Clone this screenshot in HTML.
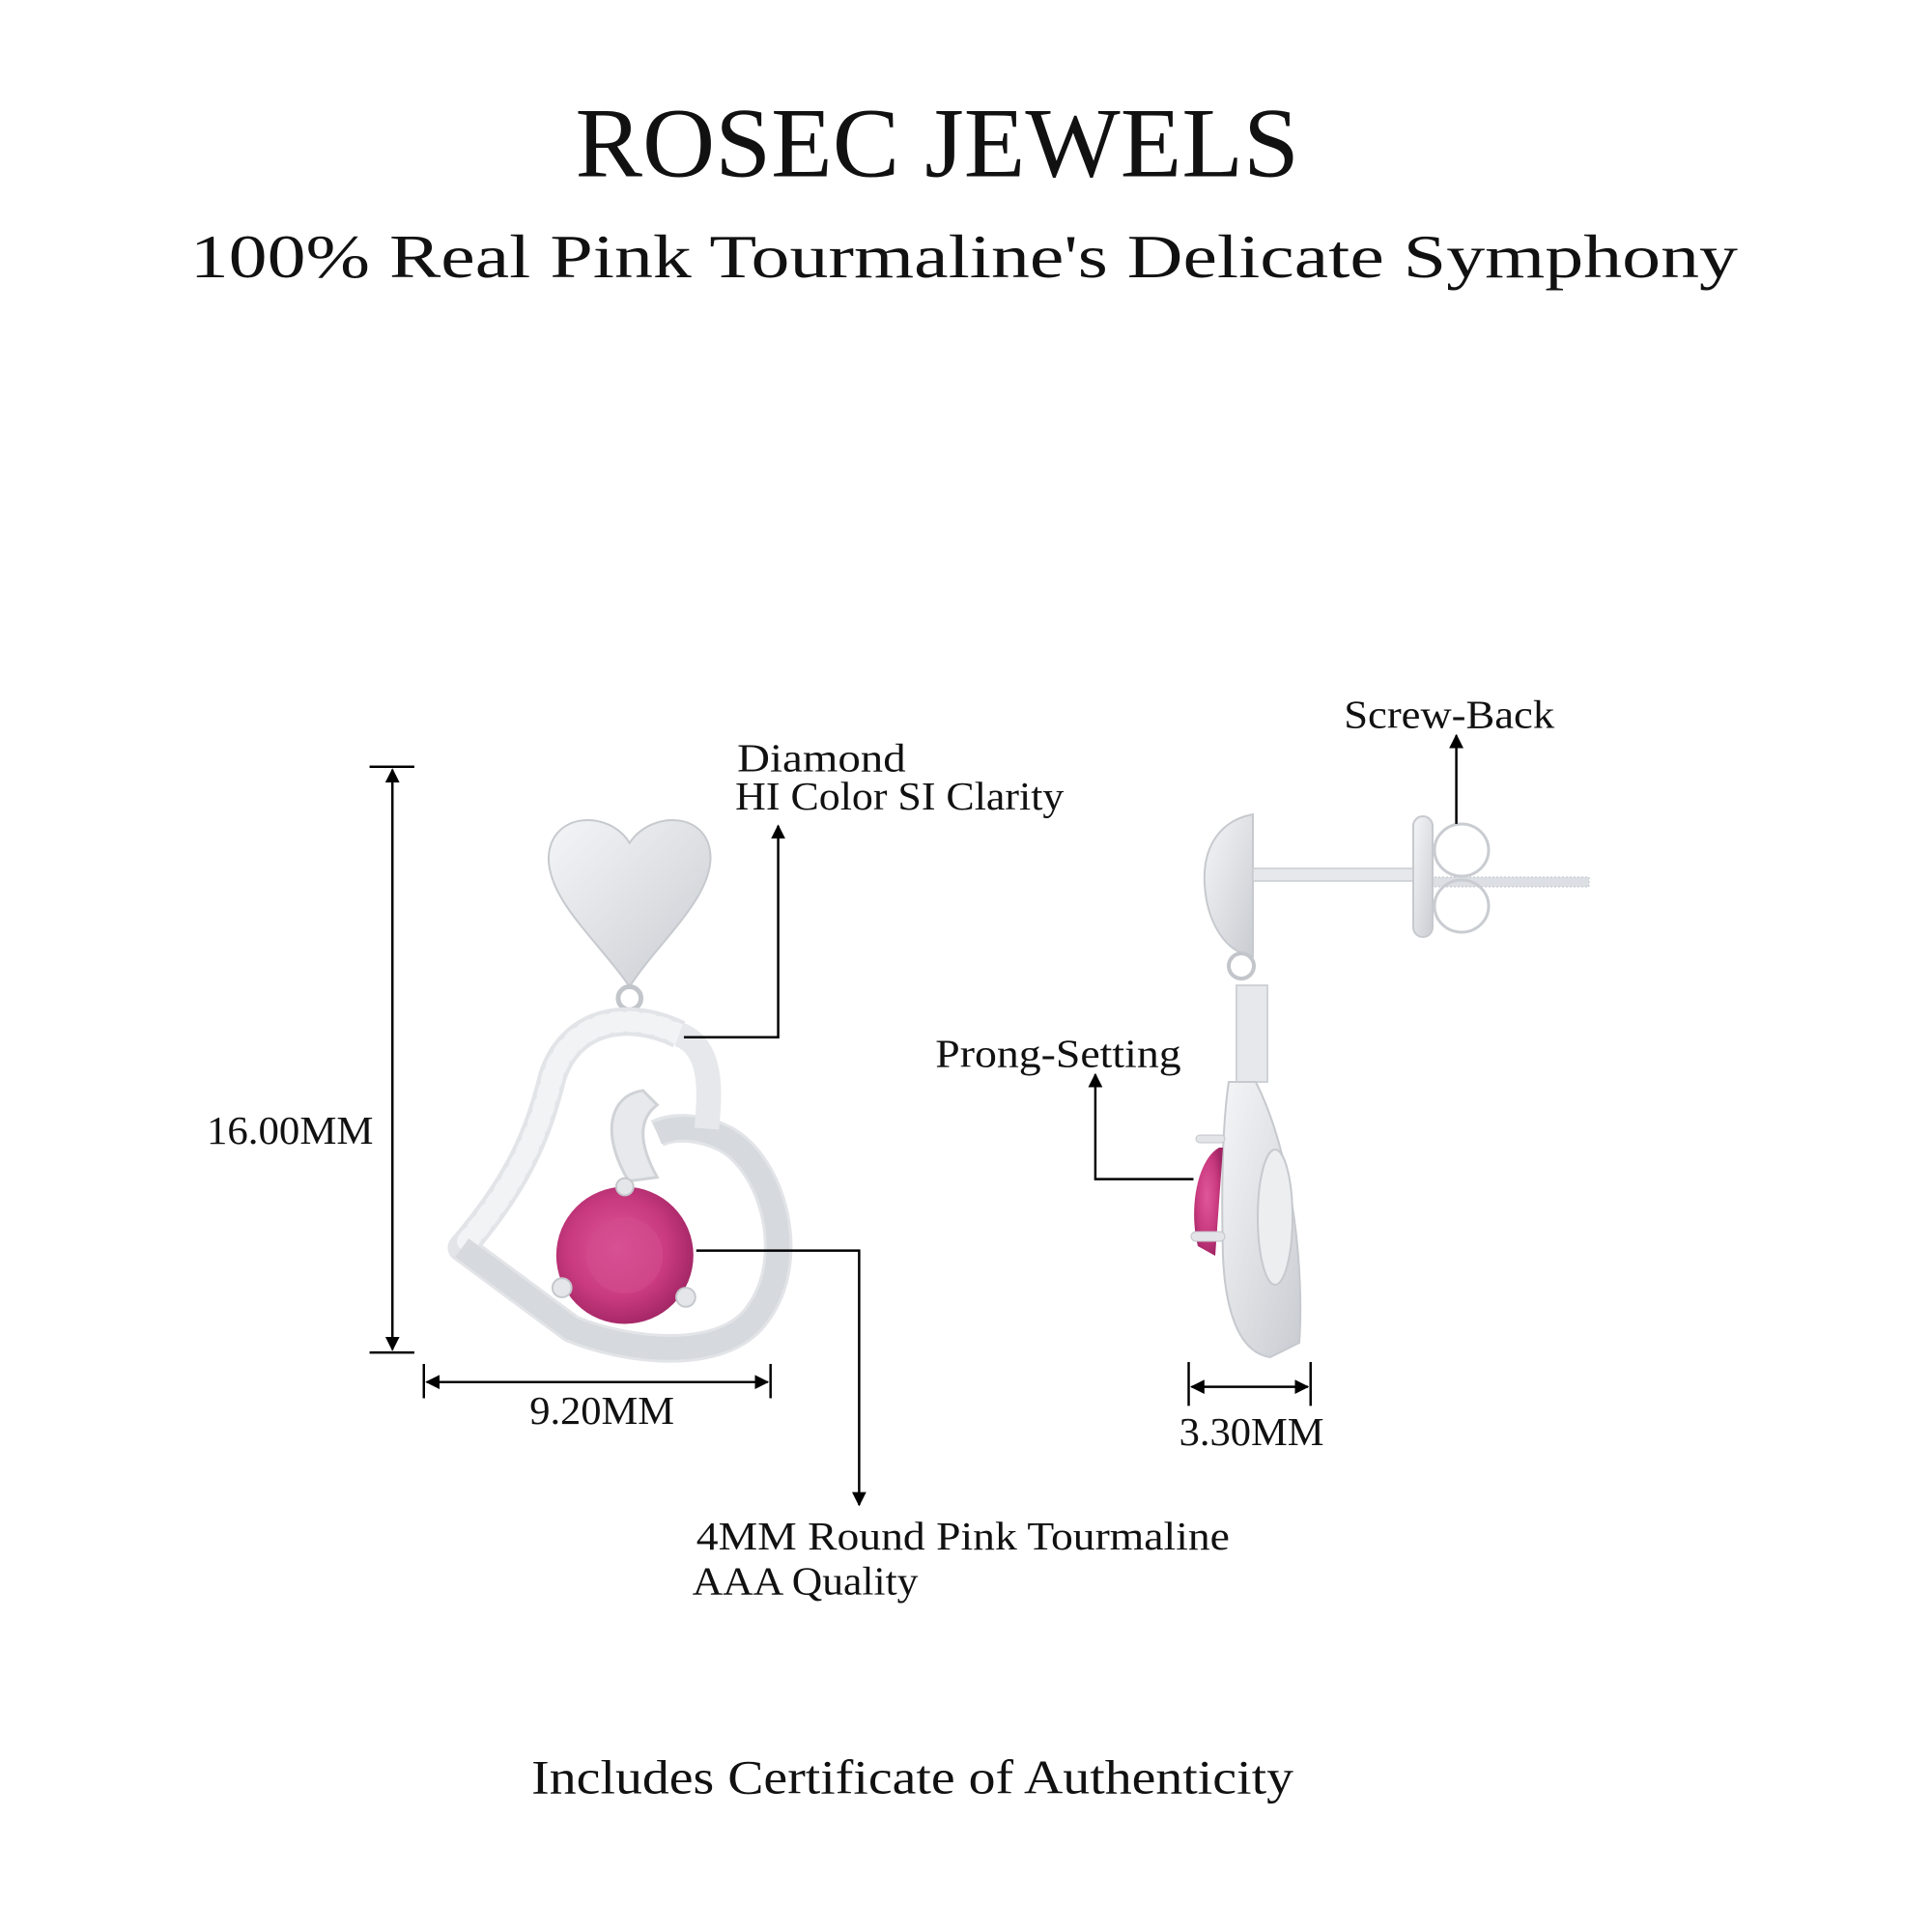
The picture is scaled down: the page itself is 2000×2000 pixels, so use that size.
<!DOCTYPE html>
<html><head><meta charset="utf-8"><style>
html,body{margin:0;padding:0;background:#fff}
svg{display:block}
text{font-family:"Liberation Serif",serif;fill:#111}
</style></head><body>
<svg width="2000" height="2000" viewBox="0 0 2000 2000" xmlns="http://www.w3.org/2000/svg">
<defs>
<marker id="ah" viewBox="0 0 10 10" refX="9" refY="5" markerWidth="6" markerHeight="6" orient="auto-start-reverse"><path d="M0,0 L10,5 L0,10 z" fill="#000"/></marker>
<linearGradient id="met" x1="0" x2="1" y1="0" y2="1"><stop offset="0" stop-color="#f4f5f7"/><stop offset="0.5" stop-color="#dfe1e5"/><stop offset="1" stop-color="#c9ccd1"/></linearGradient>
<radialGradient id="gem" cx="0.45" cy="0.45" r="0.6"><stop offset="0" stop-color="#e0579a"/><stop offset="0.6" stop-color="#c93a7f"/><stop offset="1" stop-color="#9e2462"/></radialGradient>
</defs>

<!-- side earring (true coords) -->
<path d="M1297,843 C1260,850 1245,880 1247,915 C1249,950 1265,985 1297,990 Z" fill="url(#met)" stroke="#c6c9ce" stroke-width="2"/>
<rect x="1297" y="899" width="168" height="13" fill="#e6e8eb" stroke="#c9ccd1" stroke-width="1.5"/>
<rect x="1465" y="908" width="180" height="10" fill="#dcdfe3" stroke="#bfc3c8" stroke-width="1" stroke-dasharray="2 2"/>
<rect x="1463" y="845" width="20" height="125" rx="10" fill="url(#met)" stroke="#c6c9ce" stroke-width="2"/>
<ellipse cx="1513" cy="880" rx="28" ry="27" fill="none" stroke="#c9ccd1" stroke-width="3"/>
<ellipse cx="1513" cy="938" rx="28" ry="27" fill="none" stroke="#c9ccd1" stroke-width="3"/>
<circle cx="1285" cy="1000" r="13" fill="none" stroke="#c2c5ca" stroke-width="4"/>
<path d="M1280,1020 L1312,1020 L1312,1120 L1280,1120 Z" fill="#e6e8eb" stroke="#cfd2d6" stroke-width="2"/>
<path d="M1272,1120 L1300,1120 C1340,1200 1350,1320 1345,1390 L1315,1405 C1280,1400 1268,1350 1266,1300 C1264,1220 1266,1160 1272,1120 Z" fill="url(#met)" stroke="#c6c9ce" stroke-width="2"/>
<ellipse cx="1320" cy="1260" rx="18" ry="70" fill="#eceef0" stroke="#c6c9ce" stroke-width="2"/>
<path d="M1262,1188 C1240,1200 1230,1250 1240,1290 L1258,1300 L1266,1188 Z" fill="url(#gem)"/>
<rect x="1238" y="1175" width="30" height="8" rx="4" fill="#e2e4e8" stroke="#c2c5ca"/>
<rect x="1233" y="1275" width="35" height="10" rx="5" fill="#e2e4e8" stroke="#c2c5ca"/>

<g transform="scale(0.986)">
<text x="984" y="185" text-anchor="middle" font-size="104" textLength="760" lengthAdjust="spacingAndGlyphs">ROSEC JEWELS</text>
<text x="1012" y="291" text-anchor="middle" font-size="64" textLength="1625" lengthAdjust="spacingAndGlyphs">100% Real Pink Tourmaline's Delicate Symphony</text>

<!-- left earring -->
<path d="M661,885 C640,850 578,852 576,900 C575,945 630,990 661,1036 C690,990 746,945 746,900 C745,852 684,850 661,885 Z" fill="url(#met)" stroke="#c6c9ce" stroke-width="2"/>
<circle cx="661" cy="1048" r="12" fill="none" stroke="#c2c5ca" stroke-width="5"/>
<path d="M713,1086 C660,1060 600,1070 580,1130 C565,1190 545,1240 485,1310 L600,1395 C660,1420 760,1430 795,1380 C840,1320 810,1220 760,1195 C740,1185 710,1180 690,1190" fill="none" stroke="#e2e4e8" stroke-width="30" stroke-linejoin="round"/>
<path d="M713,1086 C660,1060 600,1070 580,1130 C565,1190 545,1240 485,1310" fill="none" stroke="#f2f3f5" stroke-width="22" stroke-dasharray="6 10" stroke-linecap="round"/>
<path d="M485,1310 L600,1395 C660,1420 760,1430 795,1380 C840,1320 810,1220 760,1195 C740,1185 715,1180 690,1190" fill="none" stroke="#d6d9dd" stroke-width="24"/>
<path d="M713,1086 C750,1100 745,1150 742,1185" fill="none" stroke="#e6e8eb" stroke-width="26"/>
<path d="M675,1145 C640,1150 630,1190 660,1240 L690,1236 C670,1200 670,1175 690,1160 Z" fill="#e8e9ec" stroke="#cfd2d6" stroke-width="3"/>
<circle cx="656" cy="1318" r="72" fill="url(#gem)"/>
<circle cx="656" cy="1318" r="40" fill="#d24d8e" opacity="0.6"/>
<circle cx="656" cy="1246" r="9" fill="#e4e6e9" stroke="#c4c7cc" stroke-width="2"/>
<circle cx="590" cy="1352" r="10" fill="#e4e6e9" stroke="#c4c7cc" stroke-width="2"/>
<circle cx="720" cy="1362" r="10" fill="#e4e6e9" stroke="#c4c7cc" stroke-width="2"/>

<!-- dimension lines -->
<g stroke="#000" stroke-width="2.5" fill="none">
<line x1="388" y1="805" x2="435" y2="805"/>
<line x1="388" y1="1420" x2="435" y2="1420"/>
<line x1="412" y1="808" x2="412" y2="1417" marker-start="url(#ah)" marker-end="url(#ah)"/>
<line x1="445" y1="1432" x2="445" y2="1468"/>
<line x1="809" y1="1432" x2="809" y2="1468"/>
<line x1="448" y1="1451" x2="806" y2="1451" marker-start="url(#ah)" marker-end="url(#ah)"/>
<line x1="1248" y1="1430" x2="1248" y2="1476"/>
<line x1="1376" y1="1430" x2="1376" y2="1476"/>
<line x1="1251" y1="1456" x2="1373" y2="1456" marker-start="url(#ah)" marker-end="url(#ah)"/>
<polyline points="718,1089 817,1089 817,867" marker-end="url(#ah)"/>
<polyline points="731,1313 902,1313 902,1580" marker-end="url(#ah)"/>
<line x1="1529" y1="865" x2="1529" y2="772" marker-end="url(#ah)"/>
<polyline points="1253,1238 1150,1238 1150,1128" marker-end="url(#ah)"/>
</g>

<g font-size="42">
<text x="217" y="1201" textLength="175" lengthAdjust="spacingAndGlyphs">16.00MM</text>
<text x="632" y="1495" text-anchor="middle" textLength="152" lengthAdjust="spacingAndGlyphs">9.20MM</text>
<text x="1314" y="1517" text-anchor="middle" textLength="152" lengthAdjust="spacingAndGlyphs">3.30MM</text>
<text x="774" y="810" textLength="177" lengthAdjust="spacingAndGlyphs">Diamond</text>
<text x="772" y="850" textLength="345" lengthAdjust="spacingAndGlyphs">HI Color SI Clarity</text>
<text x="731" y="1627" textLength="560" lengthAdjust="spacingAndGlyphs">4MM Round Pink Tourmaline</text>
<text x="727" y="1674" textLength="237" lengthAdjust="spacingAndGlyphs">AAA Quality</text>
<text x="1411" y="764" textLength="221" lengthAdjust="spacingAndGlyphs">Screw-Back</text>
<text x="982" y="1120" textLength="258" lengthAdjust="spacingAndGlyphs">Prong-Setting</text>
</g>
<text x="958" y="1883" text-anchor="middle" font-size="50" textLength="800" lengthAdjust="spacingAndGlyphs">Includes Certificate of Authenticity</text>
</g>
</svg>
</body></html>
